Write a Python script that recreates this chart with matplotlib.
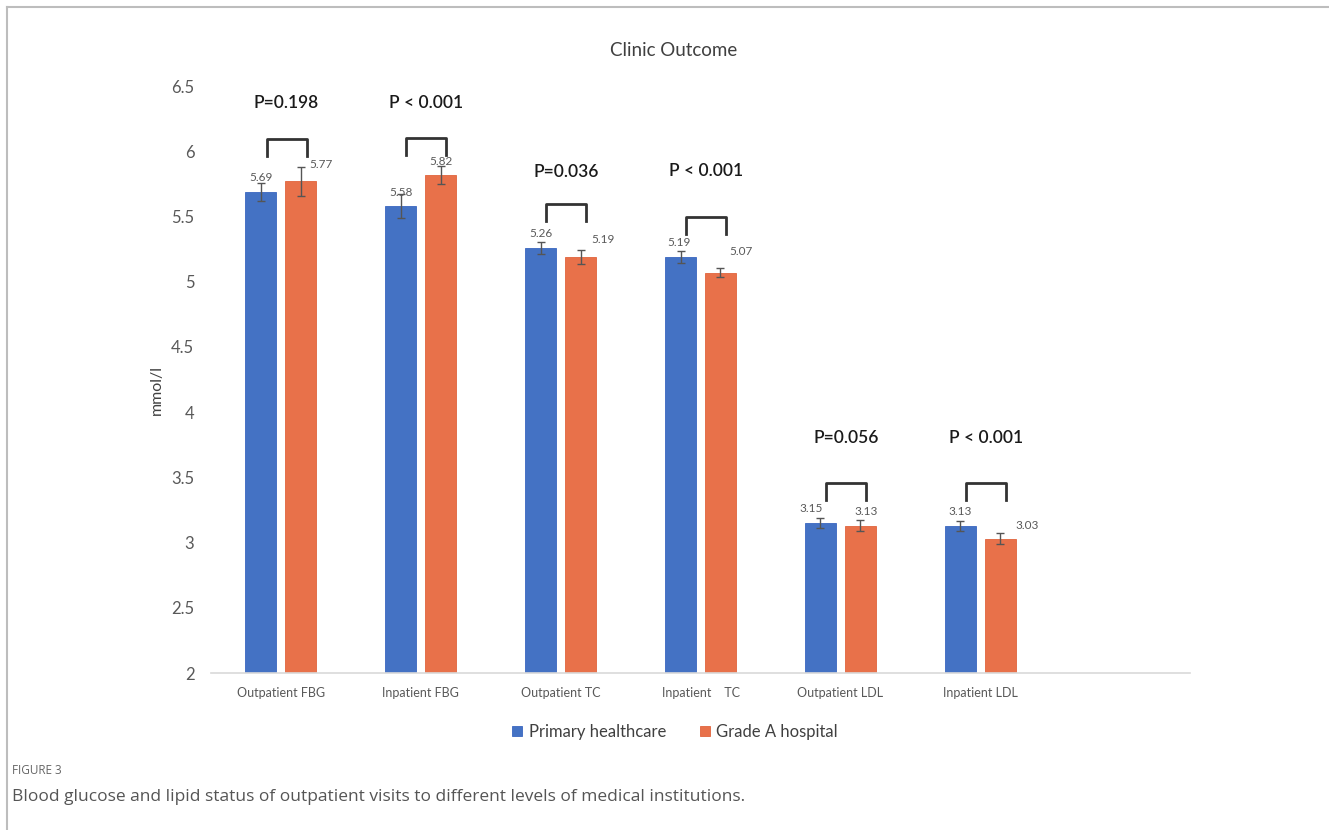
import numpy as np
import matplotlib.pyplot as plt
from matplotlib.lines import Line2D

# group labels and values (mmol/l)
categories = ["Outpatient FBG", "Inpatient FBG", "Outpatient TC",
              "Inpatient    TC", "Outpatient LDL", "Inpatient LDL"]
primary = [5.69, 5.58, 5.26, 5.19, 3.15, 3.13]
grade_a = [5.77, 5.82, 5.19, 5.07, 3.13, 3.03]
primary_err = [0.07, 0.09, 0.045, 0.045, 0.04, 0.038]
grade_a_err = [0.11, 0.07, 0.055, 0.038, 0.04, 0.04]
p_values = ["P=0.198", "P < 0.001", "P=0.036", "P < 0.001", "P=0.056", "P < 0.001"]
bracket_top = [6.095, 6.10, 5.597, 5.499, 3.457, 3.457]
p_text_y = [6.37, 6.37, 5.84, 5.85, 3.80, 3.80]

# where each value label sits relative to its bar top (pixels)
primary_lbl_off = [(0, 14), (0, 14), (0, 14), (-2, 14), (-9, 14), (0, 14)]
grade_a_lbl_off = [(20, 17), (0, 13), (22, 17), (21, 21), (6, 14), (27, 13)]

BLUE = "#4472C4"
ORANGE = "#E8714A"
GRAY = "#595959"

plt.rcParams['font.family'] = ['Lato', 'DejaVu Sans']

fig = plt.figure(figsize=(13.29, 8.3), dpi=100)
ax = fig.add_axes([211 / 1329, 1 - 673 / 830, (1190 - 211) / 1329, (673 - 86) / 830])

x = np.arange(len(categories))
w = 0.221
off = 0.143

ax.bar(x - off, primary, w, bottom=0, color=BLUE, edgecolor="#3A66C0", linewidth=0.6,
       label="Primary healthcare", zorder=2)
ax.bar(x + off, grade_a, w, bottom=0, color=ORANGE, edgecolor="#E0643C", linewidth=0.6,
       label="Grade A hospital", zorder=2)
ax.errorbar(x - off, primary, yerr=primary_err, fmt="none", ecolor="#555555",
            elinewidth=1, capsize=3, capthick=1, zorder=3)
ax.errorbar(x + off, grade_a, yerr=grade_a_err, fmt="none", ecolor="#555555",
            elinewidth=1, capsize=3, capthick=1, zorder=3)

# value labels
for i in range(len(categories)):
    ax.annotate(f"{primary[i]:.2f}", (x[i] - off, primary[i]),
                xytext=primary_lbl_off[i], textcoords="offset pixels",
                ha="center", va="center", fontsize=8.5, color=GRAY)
    ax.annotate(f"{grade_a[i]:.2f}", (x[i] + off, grade_a[i]),
                xytext=grade_a_lbl_off[i], textcoords="offset pixels",
                ha="center", va="center", fontsize=8.5, color=GRAY)

# significance brackets
leg = 0.13
for i in range(len(categories)):
    x0 = x[i] - off + 0.04
    x1 = x[i] + off + 0.04
    top = bracket_top[i]
    ax.plot([x0, x0, x1, x1], [top - leg, top, top, top - leg],
            color="#333333", lw=2, solid_joinstyle="round", zorder=4)
    ax.text((x0 + x1) / 2, p_text_y[i], p_values[i], ha="center", va="center",
            fontsize=12.5, fontweight="semibold", color="#1a1a1a")

ax.set_xlim(-0.5, 6.5)
ax.set_ylim(2, 6.5)
ax.set_yticks(np.arange(2, 6.51, 0.5))
ax.set_yticklabels(["2", "2.5", "3", "3.5", "4", "4.5", "5", "5.5", "6", "6.5"])
ax.set_xticks(x)
ax.set_xticklabels(categories)
ax.tick_params(axis="y", length=0, pad=12, labelsize=12, labelcolor=GRAY)
ax.tick_params(axis="x", length=0, pad=10, labelsize=9, labelcolor=GRAY)
for s in ["top", "right", "left"]:
    ax.spines[s].set_visible(False)
ax.spines["bottom"].set_color("#D9D9D9")
ax.spines["bottom"].set_linewidth(1.2)

fig.text(157 / 1329, 1 - 390 / 830, "mmol/l", rotation=90, ha="center", va="center",
         fontsize=11.5, color="#404040")
fig.text(674 / 1329, 1 - 51 / 830, "Clinic Outcome", ha="center", va="center",
         fontsize=13.5, color="#404040")

fig.legend(loc="center", bbox_to_anchor=(675 / 1329, 1 - 732 / 830), ncol=2,
           frameon=False, fontsize=12, handlelength=0.6, handleheight=0.6,
           columnspacing=2.0, handletextpad=0.4, labelcolor="#404040")

# figure frame and caption
fig.add_artist(Line2D([7 / 1329, 1], [1 - 7 / 830, 1 - 7 / 830], color="#BDBDBD", lw=1.5))
fig.add_artist(Line2D([7 / 1329, 7 / 1329], [0, 1 - 7 / 830], color="#BDBDBD", lw=1.5))
fig.text(12 / 1329, 1 - 770 / 830, "FIGURE 3", ha="left", va="center",
         fontsize=8.5, color="#666666", family=["Open Sans", "DejaVu Sans"])
fig.text(12 / 1329, 1 - 797 / 830,
         "Blood glucose and lipid status of outpatient visits to different levels of medical institutions.",
         ha="left", va="center", fontsize=12.5, color="#555555",
         family=["Open Sans", "DejaVu Sans"])

fig.savefig("out.png", dpi=100)
